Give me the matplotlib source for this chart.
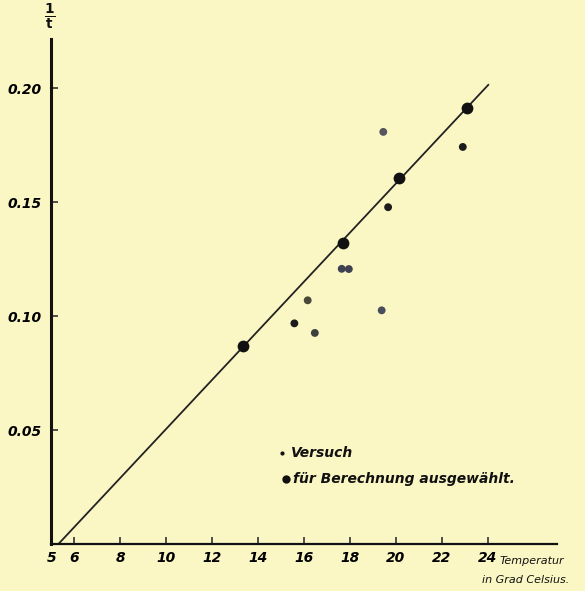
import matplotlib
matplotlib.use('Agg')
import matplotlib.pyplot as plt

# Versuch (all measured points)
versuch_t = [19.66, 17.64, 17.95, 16.16, 19.38, 15.58, 16.47, 22.91, 19.45]
versuch_r = [0.1478, 0.1208, 0.1207, 0.1070, 0.1026, 0.0969, 0.0927, 0.1742, 0.1808]
versuch_col = ['#1c1c1c', '#3e4150', '#3e4150', '#4a4838', '#4a4d5c',
               '#1c1c1c', '#3f3f3f', '#1c1c1c', '#55555f']

# fuer Berechnung ausgewaehlt
sel_t = [13.36, 17.69, 20.15, 23.08]
sel_r = [0.0868, 0.1322, 0.1608, 0.1913]

# fitted line
line_t = [5.29, 24.02]
line_r = [0.0, 0.2014]

xticks = [5, 6, 8, 10, 12, 14, 16, 18, 20, 22, 24]
yticks = [0.05, 0.10, 0.15, 0.20]
ylabels = ['0.05', '0.10', '0.15', '0.20']

bg = '#fbf7c4'
ink = '#111111'
fnt = dict(family='DejaVu Sans', style='italic', weight='bold')

fig = plt.figure(figsize=(5.85, 5.91), dpi=100, facecolor=bg)
ax = fig.add_axes([0.0877, 0.0787, 0.864, 0.8553])
ax.set_facecolor(bg)

ax.plot(line_t, line_r, color='#222222', lw=1.3, zorder=2)
ax.scatter(versuch_t, versuch_r, s=32, c=versuch_col, zorder=3, linewidths=0)
ax.scatter(sel_t, sel_r, s=72, c=ink, zorder=4, linewidths=0)

ax.set_xlim(5, 27.0)
ax.set_ylim(0, 0.2215)
for s in ['top', 'right']:
    ax.spines[s].set_visible(False)
ax.spines['left'].set_linewidth(2.2)
ax.spines['bottom'].set_linewidth(1.6)
ax.spines['left'].set_color(ink)
ax.spines['bottom'].set_color(ink)

ax.set_xticks(xticks)
ax.set_xticklabels([str(t) for t in xticks], fontsize=10, **fnt)
ax.set_yticks(yticks)
ax.set_yticklabels(ylabels, fontsize=10, **fnt)
ax.tick_params(axis='both', direction='in', length=5, width=1.2, color='#333333')
ax.tick_params(axis='x', pad=5)
ax.tick_params(axis='y', pad=7)

# axis captions
fig.text(50 / 585, 1 - 17 / 591, r'$\mathbf{\frac{1}{t}}$', fontsize=14,
         ha='center', va='center', color=ink)
fig.text(500 / 585, 1 - 561 / 591, 'Temperatur', fontsize=8, ha='left',
         va='center', color=ink, family='DejaVu Sans', style='italic')
fig.text(482 / 585, 1 - 580 / 591, 'in Grad Celsius.', fontsize=8, ha='left',
         va='center', color=ink, family='DejaVu Sans', style='italic')

# legend
ax.scatter([15.05], [0.0400], s=9, c=ink, zorder=4, linewidths=0)
ax.text(15.45, 0.0400, 'Versuch', fontsize=10, va='center', ha='left',
        color=ink, **fnt)
ax.scatter([15.2], [0.0288], s=36, c=ink, zorder=4, linewidths=0)
ax.text(15.5, 0.0288, 'für Berechnung ausgewählt.', fontsize=10, va='center',
        ha='left', color=ink, **fnt)

plt.savefig('out.png', dpi=100, facecolor=bg)
